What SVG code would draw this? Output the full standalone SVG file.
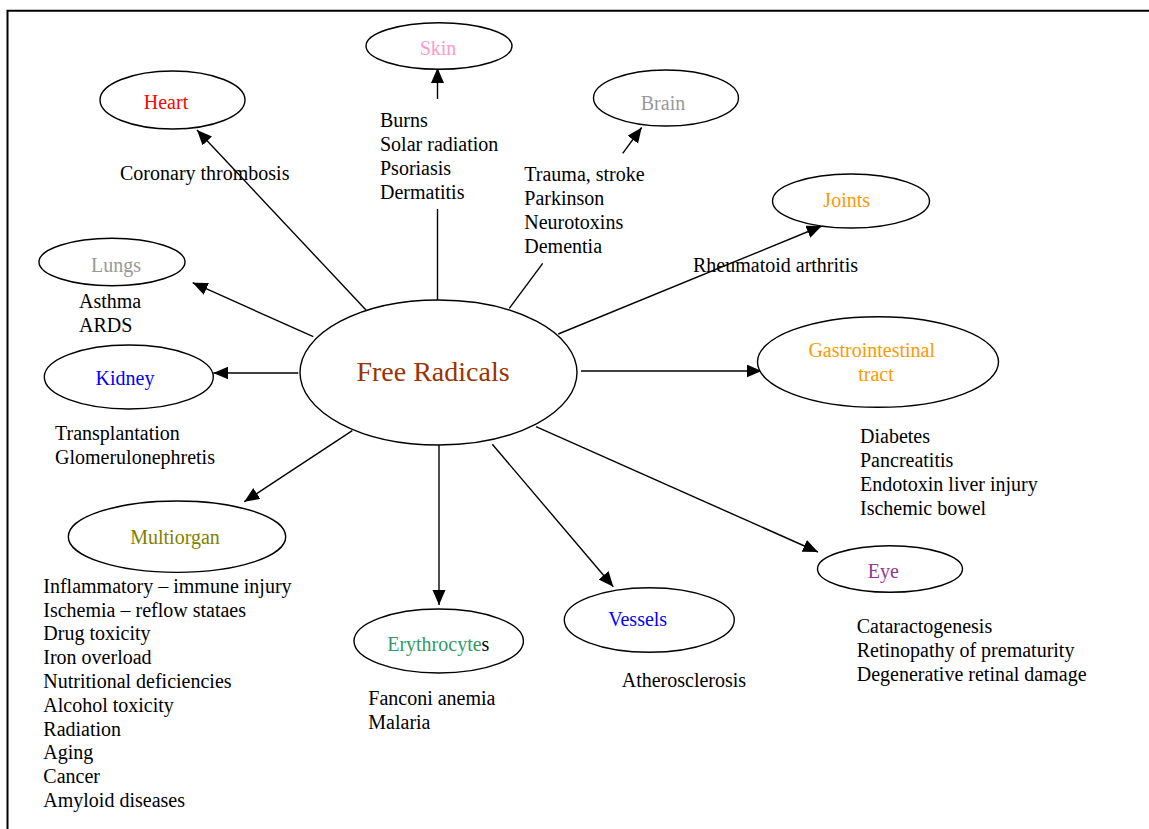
<svg xmlns="http://www.w3.org/2000/svg" width="1149" height="829" viewBox="0 0 1149 829">
<style>
text{font-family:"Liberation Serif","Times New Roman",serif;font-size:20px;fill:#000}
.lbl{text-anchor:middle}
.node ellipse{fill:#fff;stroke:#000;stroke-width:1.4}
.conn line{stroke:#000;stroke-width:1.4}
</style>
<defs>
<marker id="ah" markerUnits="userSpaceOnUse" markerWidth="16" markerHeight="14" refX="15" refY="6.5" orient="auto">
<path d="M0,0 L15,6.5 L0,13 z" fill="#000"/>
</marker>
</defs>
<rect width="1149" height="829" fill="#fff"/>
<path d="M7.5,829 V10.7 H1149" fill="none" stroke="#000" stroke-width="2"/>
<g id="connectors" class="conn">
<line x1="366" y1="310" x2="197" y2="130" marker-end="url(#ah)"/>
<line x1="437.5" y1="99" x2="437.5" y2="68" marker-end="url(#ah)"/>
<line x1="437.5" y1="209" x2="437.5" y2="300"/>
<line x1="622.7" y1="153.3" x2="641.7" y2="127.5" marker-end="url(#ah)"/>
<line x1="542.7" y1="263.3" x2="509.3" y2="308.3"/>
<line x1="558.3" y1="334" x2="821.7" y2="226" marker-end="url(#ah)"/>
<line x1="581" y1="371" x2="761.7" y2="371" marker-end="url(#ah)"/>
<line x1="536" y1="426.7" x2="818" y2="552" marker-end="url(#ah)"/>
<line x1="313.3" y1="336.7" x2="192.7" y2="282.7" marker-end="url(#ah)"/>
<line x1="298.3" y1="373" x2="213.3" y2="373" marker-end="url(#ah)"/>
<line x1="352.3" y1="430.7" x2="244.3" y2="501.7" marker-end="url(#ah)"/>
<line x1="439" y1="445" x2="439" y2="605" marker-end="url(#ah)"/>
<line x1="492.3" y1="444.3" x2="613.3" y2="586.7" marker-end="url(#ah)"/>
</g>
<g id="free-radicals" class="node">
<ellipse cx="438.5" cy="372.5" rx="138.5" ry="72.5"/>
<text class="lbl" x="433" y="381" style="font-size:28px;fill:#993300">Free Radicals</text>
</g>
<g id="heart" class="node">
<ellipse cx="172.5" cy="100" rx="72.5" ry="29"/>
<text class="lbl" x="166" y="109" style="fill:#FF0000">Heart</text>
<text x="120" y="180">Coronary thrombosis</text>
</g>
<g id="skin" class="node">
<ellipse cx="439" cy="46" rx="73" ry="23.3"/>
<text class="lbl" x="438" y="55" style="fill:#FF99CC">Skin</text>
<text x="380" y="127">Burns</text>
<text x="380" y="151">Solar radiation</text>
<text x="380" y="175">Psoriasis</text>
<text x="380" y="199">Dermatitis</text>
</g>
<g id="brain" class="node">
<ellipse cx="666" cy="98" rx="72.5" ry="28"/>
<text class="lbl" x="663" y="110" style="fill:#999999">Brain</text>
<text x="524.3" y="180.5">Trauma, stroke</text>
<text x="524.3" y="204.5">Parkinson</text>
<text x="524.3" y="228.5">Neurotoxins</text>
<text x="524.3" y="252.5">Dementia</text>
</g>
<g id="joints" class="node">
<ellipse cx="851" cy="201" rx="78.5" ry="27"/>
<text class="lbl" x="846.7" y="207.3" style="fill:#FF9900">Joints</text>
<text x="693" y="272">Rheumatoid arthritis</text>
</g>
<g id="gastrointestinal" class="node">
<ellipse cx="878" cy="362" rx="120.5" ry="45.3"/>
<text class="lbl" x="871.7" y="356.7" style="fill:#FF9900">Gastrointestinal</text>
<text class="lbl" x="876" y="380.7" style="fill:#FF9900">tract</text>
<text x="860" y="443.3">Diabetes</text>
<text x="860" y="467.3">Pancreatitis</text>
<text x="860" y="491.3">Endotoxin liver injury</text>
<text x="860" y="515.3">Ischemic bowel</text>
</g>
<g id="eye" class="node">
<ellipse cx="890" cy="569" rx="72.5" ry="23.3"/>
<text class="lbl" x="883.3" y="578.3" style="fill:#993399">Eye</text>
<text x="856.7" y="632.7">Cataractogenesis</text>
<text x="856.7" y="656.7">Retinopathy of prematurity</text>
<text x="856.7" y="680.7">Degenerative retinal damage</text>
</g>
<g id="lungs" class="node">
<ellipse cx="112" cy="262" rx="73" ry="23.7"/>
<text class="lbl" x="116" y="271.7" style="fill:#999999">Lungs</text>
<text x="79" y="307.7">Asthma</text>
<text x="79" y="331.7">ARDS</text>
</g>
<g id="kidney" class="node">
<ellipse cx="128.8" cy="377" rx="84.5" ry="32"/>
<text class="lbl" x="125" y="385" style="fill:#0000FF">Kidney</text>
<text x="55" y="440">Transplantation</text>
<text x="55" y="464">Glomerulonephretis</text>
</g>
<g id="multiorgan" class="node">
<ellipse cx="177" cy="536.7" rx="108.7" ry="35.7"/>
<text class="lbl" x="175" y="544.3" style="fill:#808000">Multiorgan</text>
<text x="43.3" y="592.7">Inflammatory – immune injury</text>
<text x="43.3" y="616.5">Ischemia – reflow stataes</text>
<text x="43.3" y="640.3">Drug toxicity</text>
<text x="43.3" y="664.1">Iron overload</text>
<text x="43.3" y="687.9">Nutritional deficiencies</text>
<text x="43.3" y="711.7">Alcohol toxicity</text>
<text x="43.3" y="735.5">Radiation</text>
<text x="43.3" y="759.3">Aging</text>
<text x="43.3" y="783.1">Cancer</text>
<text x="43.3" y="806.9">Amyloid diseases</text>
</g>
<g id="erythrocytes" class="node">
<ellipse cx="438.7" cy="641" rx="84.7" ry="32"/>
<text class="lbl" x="438.3" y="650.7"><tspan style="fill:#339966">Erythrocyte</tspan>s</text>
<text x="368.3" y="705">Fanconi anemia</text>
<text x="368.3" y="729.3">Malaria</text>
</g>
<g id="vessels" class="node">
<ellipse cx="649.3" cy="620" rx="85" ry="32.3"/>
<text class="lbl" x="637.7" y="625.7" style="fill:#0000FF">Vessels</text>
<text x="621.7" y="686.7">Atherosclerosis</text>
</g>
</svg>
